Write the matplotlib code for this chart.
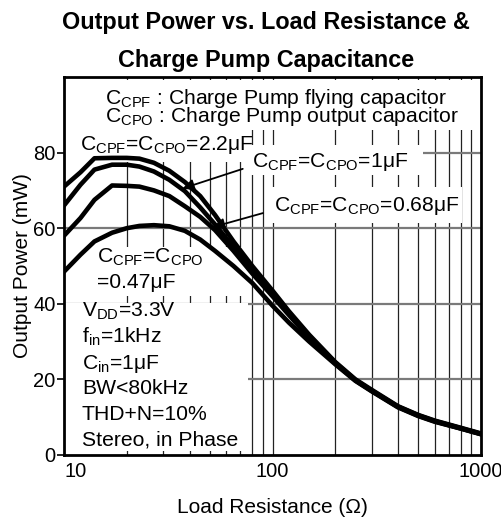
import matplotlib
matplotlib.use('Agg')
import matplotlib.pyplot as plt
from matplotlib.patches import Rectangle
from matplotlib.ticker import FixedLocator, NullFormatter

plt.rcParams['font.family'] = ['Liberation Sans', 'DejaVu Sans']
plt.rcParams['mathtext.fontset'] = 'custom'
plt.rcParams['mathtext.rm'] = 'Liberation Sans'
plt.rcParams['mathtext.it'] = 'Liberation Sans:italic'

# load resistance (ohm) and output power (mW) per charge pump capacitance
load_r = [10, 12, 14, 17, 20, 23, 27, 32, 38, 45, 53, 65, 80, 100, 120,
          150, 200, 250, 300, 400, 500, 600, 800, 1000]
p_2u2 = [71, 74.8, 78.5, 78.6, 78.6, 78.4, 77.3, 75.2, 72.2, 68.5, 63.5, 56.5,
         50, 43.5, 38, 31.8, 24.6, 20, 17.2, 12.9, 10.6, 9.1, 7.2, 5.7]
p_1u = [66, 71.5, 75.5, 76.8, 76.8, 76.3, 75, 72.8, 69.8, 65.5, 61, 55,
        49, 43, 37.6, 31.5, 24.4, 19.8, 17, 12.8, 10.5, 9, 7.1, 5.6]
p_0u68 = [58, 62.7, 67.5, 71.3, 71.2, 71, 70, 68.5, 65.8, 63, 59.5, 54,
          48, 42, 37, 31, 24.2, 19.7, 16.9, 12.7, 10.4, 8.9, 7.0, 5.5]
p_0u47 = [48.5, 53, 56.5, 58.8, 60, 60.6, 60.8, 60.5, 59.3, 57, 54, 50,
          45.5, 39.5, 35, 30, 24, 19.6, 16.8, 12.6, 10.3, 8.8, 7.0, 5.5]

x_ticks = [10, 100, 1000]
x_grid = [20, 30, 40, 50, 60, 70, 80, 90, 200, 300, 400, 500, 600, 700, 800, 900]
y_ticks = [0, 20, 40, 60, 80]

header = ('C$_\\mathrm{CPF}$ : Charge Pump flying capacitor\n'
          'C$_\\mathrm{CPO}$ : Charge Pump output capacitor')
conditions = ['V$_\\mathrm{DD}$=3.3V', 'f$_\\mathrm{in}$=1kHz', 'C$_\\mathrm{in}$=1μF',
              'BW<80kHz', 'THD+N=10%', 'Stereo, in Phase']

FS = 15.2

fig = plt.figure(figsize=(5.02, 5.18), dpi=100)
ax = fig.add_axes([64 / 502, 63 / 518, 417 / 502, 378 / 518])

ax.set_xscale('log')
ax.set_xlim(10, 1000)
ax.set_ylim(0, 100)
ax.set_xticks(x_ticks)
ax.set_xticklabels([str(v) for v in x_ticks])
ax.get_xticklabels()[0].set_horizontalalignment('left')
ax.xaxis.set_minor_locator(FixedLocator(x_grid))
ax.xaxis.set_minor_formatter(NullFormatter())
ax.set_yticks(y_ticks)
ax.tick_params(axis='x', which='both', length=0, labelsize=14.5, pad=5)
ax.tick_params(axis='y', length=5, width=1.2, direction='out', labelsize=14.5, pad=1)
for s in ax.spines.values():
    s.set_linewidth(2)

ax.set_axisbelow(True)
for xv in x_grid + [100]:
    ax.axvline(xv, color='#222222', lw=0.9, zorder=0.5)
for yv in y_ticks[1:]:
    ax.axhline(yv, color='#7a7a7a', lw=1.6, zorder=0.5)

# white panels behind the text blocks
def mask(x0, x1, y0, y1):
    ax.add_patch(Rectangle(((x0 - 64) / 417, (455 - y1) / 378),
                           (x1 - x0) / 417, (y1 - y0) / 378,
                           transform=ax.transAxes, fc='white', ec='none', zorder=1))

mask(64, 481, 80, 130)
mask(64, 245, 130, 162)
mask(245, 423, 145, 175)
mask(265, 462, 187, 223)
mask(64, 248, 247, 296)
mask(64, 248, 303, 451)

for p in [p_2u2, p_1u, p_0u68, p_0u47]:
    ax.plot(load_r, p, color='black', lw=3.3, solid_joinstyle='round', zorder=3)

def px_text(px, py, s, **kw):
    return ax.text((px - 64) / 417, (455 - py) / 378, s, transform=ax.transAxes,
                   va='baseline', ha='left', fontsize=FS, zorder=4, **kw)

px_text(105, 122, header, linespacing=0.70)
px_text(80, 150, 'C$_\\mathrm{CPF}$=C$_\\mathrm{CPO}$=2.2μF')
px_text(97, 263, 'C$_\\mathrm{CPF}$=C$_\\mathrm{CPO}$')
px_text(97, 288, '=0.47μF')

arrow = dict(arrowstyle='-|>', color='black', lw=1.3, mutation_scale=17,
             shrinkA=0, shrinkB=0)
ax.annotate('', xy=(37, 70.5), xytext=(72, 75.7), arrowprops=arrow, zorder=5)
ax.annotate('', xy=(51.8, 60.3), xytext=(90, 64), arrowprops=arrow, zorder=5)
px_text(252, 167, 'C$_\\mathrm{CPF}$=C$_\\mathrm{CPO}$=1μF')
px_text(274, 211, 'C$_\\mathrm{CPF}$=C$_\\mathrm{CPO}$=0.68μF')

for i, c in enumerate(conditions):
    px_text(82, 317 + i * 25.8, c)

ax.set_xlabel('Load Resistance (Ω)', fontsize=15, labelpad=12)
ax.set_ylabel('Output Power (mW)', fontsize=15, labelpad=1)
fig.text(0.53, 1 - 22 / 518, 'Output Power vs. Load Resistance &',
         ha='center', va='center', fontsize=16.8, fontweight='bold')
fig.text(0.53, 1 - 60 / 518, 'Charge Pump Capacitance',
         ha='center', va='center', fontsize=16.8, fontweight='bold')

fig.savefig('out.png', dpi=100)
